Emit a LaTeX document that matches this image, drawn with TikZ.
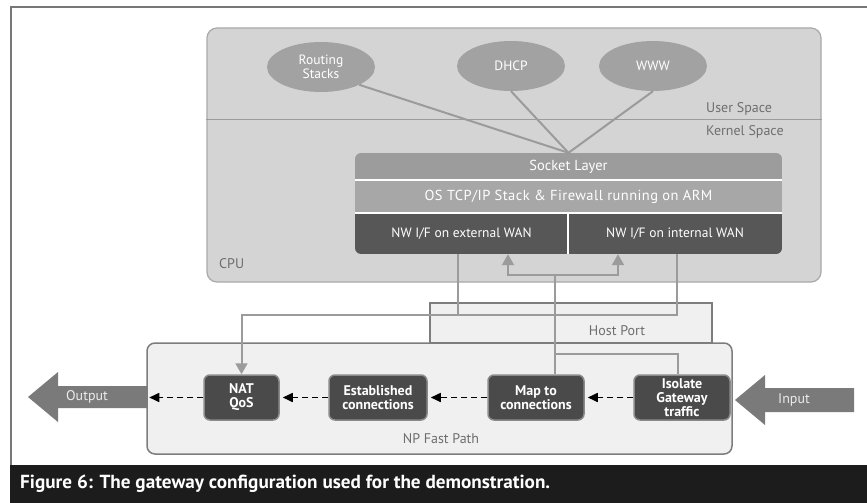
\documentclass[tikz,border=0pt]{standalone}
\usepackage{fontspec}
\usepackage{graphicx}
\setmainfont{PT Sans}
\usetikzlibrary{arrows.meta,shapes.geometric}

\definecolor{cpufill}{HTML}{D4D4D4}
\definecolor{cpuline}{HTML}{A9A9A9}
\definecolor{ellfill}{HTML}{A2A2A2}
\definecolor{sockfill}{HTML}{9C9C9C}
\definecolor{osfill}{HTML}{A7A7A7}
\definecolor{nwfill}{HTML}{575757}
\definecolor{npfill}{HTML}{F0F0F0}
\definecolor{npline}{HTML}{7D7D7D}
\definecolor{boxfill}{HTML}{4A4A4A}
\definecolor{boxline}{HTML}{8A8A8A}
\definecolor{feedgray}{HTML}{9B9B9B}
\definecolor{bigarrow}{HTML}{7A7A7A}
\definecolor{labelgray}{HTML}{6E6E6E}
\definecolor{capbar}{HTML}{1C1C1C}
\definecolor{frameline}{HTML}{777777}

\begin{document}
\begin{tikzpicture}[x=1pt,y=-1pt,
  txt/.style={font=\fontsize{13.5}{14}\selectfont},
  lbl/.style={font=\fontsize{14}{15}\selectfont, text=labelgray, inner sep=0},
  app/.style={ellipse, fill=ellfill, minimum width=108, minimum height=50,
    inner sep=0, text=white, align=center, font=\fontsize{13.5}{13.5}\selectfont},
  stackrow/.style={rectangle, inner sep=0, text=white, txt},
  npbox/.style={rectangle, rounded corners=6, fill=boxfill, draw=boxline,
    line width=1.5, text=white, align=center, inner sep=0, minimum height=45,
    font=\fontsize{14}{14}\selectfont\bfseries},
  feed/.style={draw=feedgray, line width=2},
  feedtip/.style={feed, -{Triangle[width=12pt,length=11pt]}},
  flow/.style={black, line width=1.6, dash pattern=on 6pt off 4pt,
    -{Triangle[width=9pt,length=10pt]}, shorten >=3pt},
]
\useasboundingbox (0,0) rectangle (867,503);
\fill[white] (0,0) rectangle (867,503);

% outer frame and caption bar
\draw[frameline, line width=1.2] (11,465) -- (11,7) -- (867,7);
\fill[capbar] (10,465) rectangle (867,503);
\node[anchor=base west, inner sep=0, text=white] (caption) at (20,488)
  {\resizebox{530pt}{13.5pt}{\bfseries Figure 6: The gateway configuration used for the demonstration.}};

% CPU area
\node[rectangle, rounded corners=10, fill=cpufill, draw=cpuline, line width=1.2,
  minimum width=614, minimum height=254, inner sep=0] (cpu) at (514,155) {};
\draw[feedgray, line width=1.5] (cpu.west |- 0,119.5) -- (cpu.east |- 0,119.5);
\node[lbl, anchor=west] (user) at (706,109) {User Space};
\node[lbl, anchor=west] (kernel) at (706,132) {Kernel Space};
\node[lbl, anchor=west] (cpulbl) at (219,264) {CPU};

% user space applications
\node[app] (routing) at (321,67) {Routing\\Stacks};
\node[app] (dhcp) at (511,66) {DHCP};
\node[app] (www) at (653,66) {WWW};

% kernel network stack
\begin{scope}
  \clip[rounded corners=6] (355,153) rectangle (782,254);
  \node[stackrow, fill=sockfill, minimum width=427, minimum height=27,
    font=\fontsize{14.5}{15}\selectfont] (sock) at (568.5,166.5) {Socket Layer};
  \node[stackrow, fill=osfill, minimum width=427, minimum height=33,
    font=\fontsize{14.5}{15}\selectfont\addfontfeature{LetterSpace=3}] (os) at (568.5,196.5)
    {OS TCP/IP Stack \& Firewall running on ARM};
  \node[stackrow, fill=nwfill, minimum width=213, minimum height=41] (nwext) at (461.5,233.5) {NW I/F on external WAN};
  \node[stackrow, fill=nwfill, minimum width=214, minimum height=41] (nwint) at (675,233.5) {NW I/F on internal WAN};
\end{scope}
\draw[white, line width=1.5] (sock.south west) -- (sock.south east);
\draw[white, line width=1.5] (os.south west) -- (os.south east);
\draw[white, line width=1.5] (nwext.north east) -- (nwext.south east);

\draw[feed] (routing.south east) -- (sock.north);
\draw[feed] (dhcp.south) -- (sock.north);
\draw[feed] (www.south) -- (sock.north);

% network processor
\node[rectangle, fill=npfill, draw=npline, line width=1.2, minimum width=282,
  minimum height=40, inner sep=0] (host) at (571,323) {};
\node[rectangle, rounded corners=8, fill=npfill, draw=npline, line width=1.5,
  minimum width=585, minimum height=111, inner sep=0] (np) at (439.5,398.5) {};
\node[lbl] (hostlbl) at (617,331) {Host Port};
\node[lbl] (nplbl) at (441,439) {NP Fast Path};

\node[npbox, minimum width=75] (nat) at (241.5,397.5) {NAT\\QoS};
\node[npbox, minimum width=98] (est) at (378,397.5) {Established\\connections};
\node[npbox, minimum width=96] (map) at (536,397.5) {Map to\\connections};
\node[npbox, minimum width=96] (iso) at (682,397.5) {Isolate\\Gateway\\traffic};

% fast path flow
\draw[flow] (iso.west) -- (map.east);
\draw[flow] (map.west) -- (est.east);
\draw[flow] (est.west) -- (nat.east);
\draw[flow] (nat.west) -- (nat.west -| np.west);

% host port links
\coordinate (bus) at (0,315);
\coordinate (up) at (0,275);
\coordinate (tap) at (0,354);
\draw[feed] ([xshift=-3.5]nwext.south) -- ([xshift=-3.5]nwext.south |- bus);
\draw[feedtip] ([xshift=2]nwint.south) -- ([xshift=2]nwint.south |- bus) -| (nat.north);
\draw[feedtip] ([xshift=19]map.north) -- ([xshift=19]map.north |- up)
  -| ([xshift=46.5]nwext.south);
\draw[feedtip] ([xshift=19]map.north |- up) -| ([xshift=-57]nwint.south);
\draw[feed] ([xshift=-4]iso.north) |- ([xshift=19]map.north |- tap);

% output and input arrows
\fill[bigarrow] (147,386) -- (58,386) -- (58,372) -- (28,397) -- (58,422)
  -- (58,408) -- (147,408) -- cycle;
\node[lbl, text=white!92!black] (outlbl) at (87,397) {Output};
\fill[bigarrow] (854,388) -- (765,388) -- (765,375) -- (735,400) -- (765,425)
  -- (765,412) -- (854,412) -- cycle;
\node[lbl, text=white!92!black] (inlbl) at (794,400) {Input};
\end{tikzpicture}
\end{document}
